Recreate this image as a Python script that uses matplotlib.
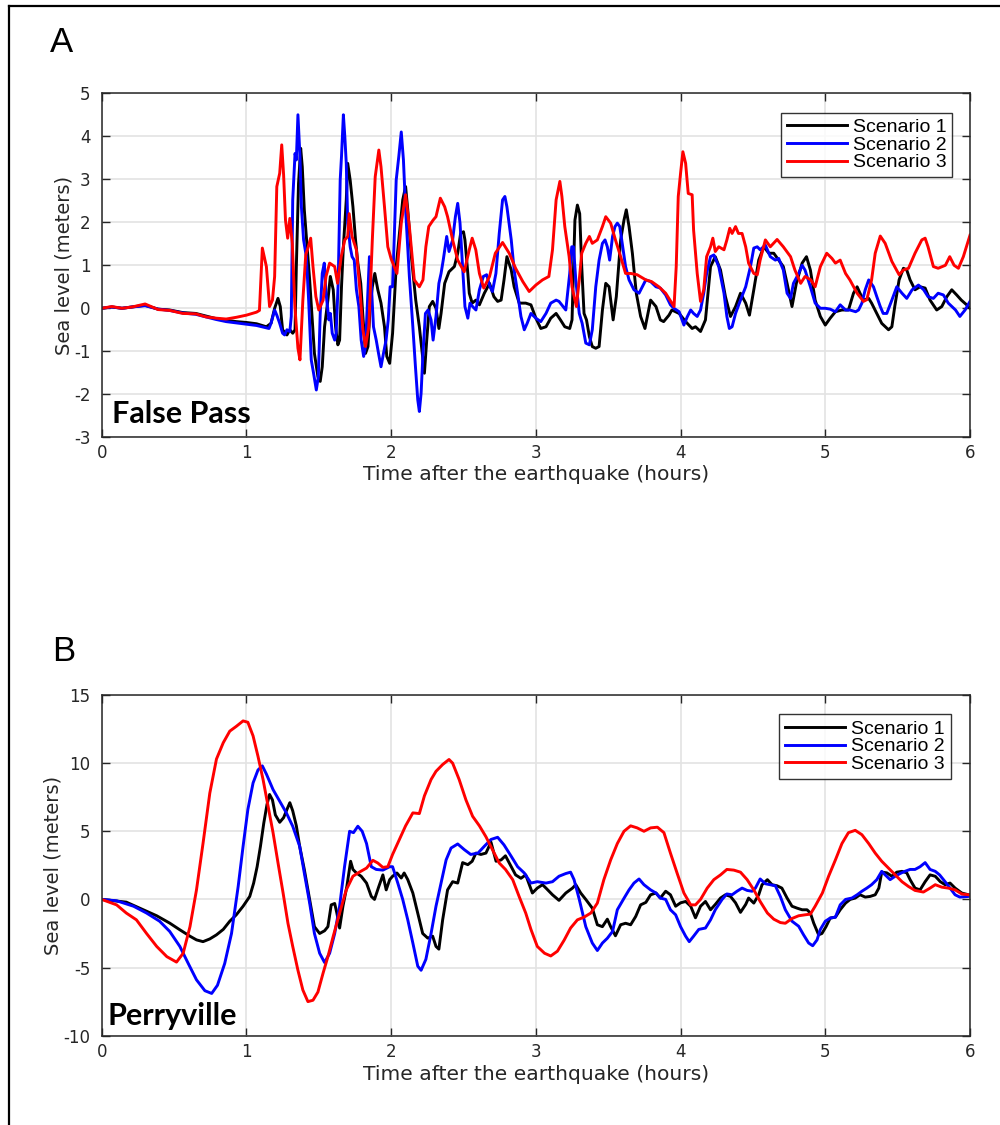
import numpy as np
import matplotlib
matplotlib.use("Agg")
import matplotlib.pyplot as plt
from matplotlib.lines import Line2D

plt.rcParams['font.family'] = ['Liberation Sans', 'DejaVu Sans']
plt.rcParams['axes.unicode_minus'] = False

# ---- panel A: False Pass ----
a_t1 = [0, 0.07, 0.14, 0.21, 0.30, 0.39, 0.47, 0.56, 0.65, 0.72, 0.79, 0.86, 0.93, 1.0, 1.07, 1.138, 1.17, 1.195,
        1.218, 1.234, 1.25, 1.28, 1.30, 1.32, 1.336, 1.345, 1.36, 1.375, 1.386, 1.40, 1.418, 1.437, 1.455, 1.47,
        1.494, 1.51, 1.524, 1.54, 1.563, 1.58, 1.6, 1.616, 1.632, 1.644, 1.657, 1.67, 1.69, 1.70, 1.717, 1.736,
        1.754, 1.77, 1.79, 1.805, 1.823, 1.84, 1.855, 1.87, 1.887, 1.908, 1.93, 1.954, 1.97, 1.99, 2.01, 2.035,
        2.057, 2.08, 2.10, 2.115, 2.14, 2.17, 2.195, 2.22, 2.23, 2.246, 2.264, 2.287, 2.31, 2.33, 2.345, 2.37, 2.40,
        2.437, 2.46, 2.48, 2.50, 2.51, 2.53, 2.54, 2.56, 2.586, 2.61, 2.644, 2.68, 2.71, 2.736, 2.76, 2.78, 2.80,
        2.83, 2.85, 2.885, 2.93, 2.966, 3.0, 3.034, 3.07, 3.103, 3.14, 3.17, 3.2, 3.234, 3.25, 3.27, 3.287, 3.303,
        3.317, 3.333, 3.35, 3.37, 3.39, 3.414, 3.437, 3.46, 3.483, 3.506, 3.534, 3.556, 3.586, 3.609, 3.625, 3.644,
        3.667, 3.694, 3.724, 3.754, 3.793, 3.83, 3.86, 3.883, 3.92, 3.94, 3.99, 4.035, 4.08, 4.103, 4.138, 4.172,
        4.207, 4.24, 4.276, 4.31, 4.345, 4.38, 4.414, 4.45, 4.476, 4.506, 4.54, 4.575, 4.61, 4.644, 4.678, 4.71,
        4.736, 4.77, 4.80, 4.84, 4.87, 4.897, 4.93, 4.966, 5.0, 5.034, 5.07, 5.115, 5.16, 5.195, 5.22, 5.24, 5.264,
        5.3, 5.32, 5.356, 5.39, 5.437, 5.46, 5.48, 5.51, 5.54, 5.563, 5.586, 5.62, 5.655, 5.69, 5.724, 5.77, 5.805,
        5.84, 5.874, 5.908, 5.94, 5.977, 6.0]
a_s1 = [0.0, 0.03, 0.0, 0.03, 0.07, -0.02, -0.04, -0.1, -0.12, -0.18, -0.24, -0.28, -0.31, -0.33, -0.36, -0.43,
        -0.35, 0.0, 0.23, 0.04, -0.5, -0.62, -0.5, -0.58, -0.5, 0.97, 2.9, 3.72, 3.29, 2.29, 1.51, 0.66, -0.27,
        -1.05, -1.59, -1.7, -1.36, -0.43, 0.19, 0.74, 0.43, -0.43, -0.85, -0.74, 0.5, 1.43, 2.52, 3.37, 2.98, 2.36,
        1.59, 1.05, 0.58, -0.19, -1.05, -0.89, 0.04, 0.5, 0.81, 0.43, 0.12, -0.43, -1.12, -1.28, -0.58, 0.97, 1.74,
        2.52, 2.83, 2.29, 1.2, 0.19, -0.43, -1.2, -1.51, -0.74, 0.04, 0.16, 0.0, -0.47, -0.12, 0.58, 0.85, 0.97,
        1.28, 1.74, 1.78, 1.59, 0.81, 0.35, 0.12, 0.19, 0.08, 0.35, 0.58, 0.27, 0.16, 0.19, 0.66, 1.2, 0.89, 0.5,
        0.12, 0.12, 0.08, -0.23, -0.47, -0.43, -0.23, -0.12, -0.27, -0.43, -0.47, -0.27, 2.05, 2.4, 2.2, 0.97,
        -0.12, -0.27, -0.66, -0.89, -0.93, -0.89, -0.04, 0.58, 0.5, -0.27, 0.27, 1.59, 2.05, 2.29, 1.9, 1.28, 0.35,
        -0.19, -0.47, 0.19, 0.04, -0.27, -0.31, -0.16, -0.04, -0.12, -0.31, -0.47, -0.43, -0.54, -0.27, 0.97, 1.2,
        0.89, 0.27, -0.19, 0.04, 0.35, 0.12, -0.16, 0.43, 1.12, 1.43, 1.28, 1.28, 1.12, 0.97, 0.58, 0.04, 0.58,
        1.05, 1.2, 0.89, 0.19, -0.19, -0.39, -0.23, -0.08, -0.04, -0.04, 0.35, 0.5, 0.35, 0.19, 0.23, 0.12, -0.12,
        -0.35, -0.5, -0.43, 0.04, 0.66, 0.93, 0.89, 0.66, 0.43, 0.5, 0.47, 0.19, -0.04, 0.04, 0.27, 0.43, 0.31,
        0.19, 0.08, 0.0]

a_t2 = [0, 0.07, 0.14, 0.21, 0.30, 0.39, 0.47, 0.56, 0.65, 0.72, 0.79, 0.86, 0.93, 1.0, 1.07, 1.156, 1.17, 1.195,
        1.21, 1.23, 1.25, 1.264, 1.28, 1.30, 1.31, 1.32, 1.336, 1.345, 1.356, 1.37, 1.38, 1.395, 1.414, 1.43, 1.448,
        1.464, 1.483, 1.497, 1.51, 1.524, 1.538, 1.55, 1.57, 1.58, 1.593, 1.61, 1.62, 1.634, 1.648, 1.657, 1.67,
        1.68, 1.69, 1.70, 1.717, 1.73, 1.745, 1.76, 1.777, 1.793, 1.81, 1.823, 1.837, 1.85, 1.864, 1.878, 1.897,
        1.913, 1.93, 1.947, 1.965, 1.98, 1.993, 2.01, 2.035, 2.053, 2.07, 2.085, 2.10, 2.126, 2.15, 2.168, 2.184,
        2.195, 2.207, 2.22, 2.237, 2.255, 2.276, 2.29, 2.31, 2.33, 2.345, 2.36, 2.384, 2.40, 2.425, 2.444, 2.46,
        2.476, 2.494, 2.51, 2.53, 2.545, 2.563, 2.586, 2.61, 2.637, 2.66, 2.683, 2.70, 2.724, 2.747, 2.77, 2.786,
        2.80, 2.83, 2.85, 2.874, 2.897, 2.92, 2.94, 2.966, 3.0, 3.034, 3.07, 3.103, 3.14, 3.16, 3.207, 3.234, 3.248,
        3.26, 3.276, 3.3, 3.32, 3.345, 3.37, 3.39, 3.414, 3.437, 3.46, 3.478, 3.494, 3.51, 3.53, 3.547, 3.563, 3.58,
        3.6, 3.62, 3.644, 3.678, 3.713, 3.736, 3.76, 3.793, 3.83, 3.86, 3.897, 3.93, 3.954, 3.99, 4.023, 4.046,
        4.07, 4.09, 4.115, 4.138, 4.16, 4.18, 4.207, 4.23, 4.264, 4.3, 4.32, 4.337, 4.356, 4.38, 4.414, 4.45, 4.483,
        4.506, 4.53, 4.55, 4.586, 4.62, 4.655, 4.678, 4.71, 4.736, 4.76, 4.78, 4.816, 4.84, 4.86, 4.897, 4.93,
        4.966, 5.0, 5.034, 5.07, 5.103, 5.14, 5.17, 5.21, 5.23, 5.253, 5.276, 5.30, 5.333, 5.356, 5.38, 5.40, 5.425,
        5.46, 5.494, 5.53, 5.563, 5.6, 5.644, 5.68, 5.71, 5.747, 5.78, 5.816, 5.85, 5.9, 5.93, 5.966, 6.0]
a_s2 = [0.0, 0.03, 0.0, 0.03, 0.06, -0.02, -0.05, -0.11, -0.14, -0.2, -0.26, -0.31, -0.34, -0.37, -0.4, -0.47,
        -0.35, -0.04, -0.16, -0.35, -0.58, -0.62, -0.5, -0.54, -0.19, 2.52, 3.6, 3.45, 4.5, 3.53, 2.36, 1.59, 1.2,
        0.19, -1.2, -1.51, -1.9, -1.59, -0.12, 0.81, 1.05, 0.35, -0.27, -0.12, -0.58, -0.74, -0.58, 0.58, 2.98,
        3.53, 4.5, 3.99, 3.37, 1.98, 1.43, 1.2, 1.12, 0.43, 0.04, -0.74, -1.12, -0.89, 0.19, 1.2, 0.5, -0.43,
        -0.74, -1.05, -1.36, -1.05, -0.74, -0.27, 0.5, 0.5, 2.98, 3.53, 4.1, 3.45, 2.29, 0.74, -0.43, -1.36,
        -2.13, -2.4, -1.98, -1.05, -0.12, -0.04, -0.27, -0.74, -0.19, 0.58, 0.81, 1.12, 1.67, 1.32, 1.59, 2.13,
        2.44, 1.98, 0.97, 0.04, -0.23, 0.12, 0.04, -0.04, 0.43, 0.74, 0.78, 0.5, 0.39, 0.81, 1.74, 2.52, 2.6, 2.36,
        1.59, 0.89, 0.35, -0.19, -0.5, -0.35, -0.12, -0.23, -0.31, -0.12, 0.12, 0.19, 0.16, -0.04, 0.81, 1.43,
        1.43, 0.66, -0.12, -0.35, -0.81, -0.85, -0.5, 0.5, 1.12, 1.51, 1.59, 1.43, 1.12, 1.67, 1.9, 1.98, 1.9,
        1.43, 0.97, 0.66, 0.43, 0.35, 0.5, 0.66, 0.62, 0.5, 0.47, 0.31, 0.08, 0.0, -0.08, -0.39, -0.2, -0.04,
        -0.12, -0.19, -0.04, 0.35, 0.81, 1.2, 1.24, 0.97, 0.35, -0.19, -0.47, -0.43, -0.12, 0.19, 0.5, 0.97, 1.4,
        1.43, 1.36, 1.47, 1.2, 1.12, 1.16, 0.89, 0.35, 0.23, 0.58, 0.81, 1.0, 0.89, 0.5, 0.12, 0.0, 0.0, -0.02,
        -0.08, 0.08, -0.04, -0.04, -0.08, -0.04, 0.12, 0.43, 0.66, 0.5, 0.27, 0.04, -0.12, -0.12, 0.19, 0.5, 0.35,
        0.23, 0.43, 0.54, 0.43, 0.27, 0.23, 0.35, 0.31, 0.12, -0.04, -0.19, -0.04, 0.16]

a_t3 = [0, 0.07, 0.14, 0.21, 0.30, 0.39, 0.47, 0.56, 0.65, 0.72, 0.79, 0.86, 0.93, 1.0, 1.07, 1.09, 1.11, 1.138,
        1.16, 1.18, 1.195, 1.21, 1.23, 1.244, 1.257, 1.27, 1.285, 1.30, 1.317, 1.335, 1.356, 1.37, 1.39, 1.41,
        1.425, 1.444, 1.46, 1.48, 1.50, 1.53, 1.55, 1.575, 1.61, 1.63, 1.655, 1.68, 1.70, 1.71, 1.73, 1.76, 1.786,
        1.805, 1.823, 1.846, 1.87, 1.89, 1.915, 1.93, 1.954, 1.977, 2.0, 2.04, 2.07, 2.10, 2.126, 2.16, 2.195,
        2.22, 2.24, 2.26, 2.29, 2.31, 2.34, 2.37, 2.39, 2.425, 2.46, 2.505, 2.54, 2.56, 2.585, 2.61, 2.64, 2.68,
        2.72, 2.77, 2.816, 2.86, 2.91, 2.954, 3.0, 3.046, 3.09, 3.115, 3.14, 3.166, 3.18, 3.20, 3.23, 3.25, 3.28,
        3.30, 3.317, 3.345, 3.37, 3.39, 3.425, 3.46, 3.483, 3.517, 3.55, 3.586, 3.62, 3.655, 3.70, 3.76, 3.80,
        3.85, 3.897, 3.94, 3.955, 3.97, 3.984, 4.0, 4.016, 4.035, 4.053, 4.08, 4.09, 4.115, 4.138, 4.16, 4.18,
        4.207, 4.223, 4.24, 4.264, 4.30, 4.32, 4.34, 4.356, 4.38, 4.40, 4.425, 4.45, 4.47, 4.506, 4.53, 4.55,
        4.586, 4.62, 4.667, 4.71, 4.76, 4.79, 4.83, 4.86, 4.90, 4.93, 4.966, 5.01, 5.046, 5.07, 5.103, 5.14, 5.17,
        5.22, 5.264, 5.287, 5.32, 5.345, 5.38, 5.414, 5.46, 5.51, 5.54, 5.575, 5.62, 5.667, 5.69, 5.71, 5.747,
        5.78, 5.83, 5.86, 5.89, 5.92, 5.954, 6.0]
a_s3 = [0.0, 0.04, 0.0, 0.03, 0.1, -0.03, -0.05, -0.12, -0.13, -0.2, -0.23, -0.25, -0.21, -0.16, -0.09, -0.05,
        1.40, 0.97, 0.04, 0.19, 0.74, 2.83, 3.14, 3.80, 3.1, 2.05, 1.63, 2.09, 1.51, 0.04, -0.93, -1.2, 0.19, 1.24,
        1.40, 1.63, 0.97, 0.27, -0.04, 0.19, 0.74, 1.05, 0.97, 0.58, 1.2, 1.59, 1.67, 2.2, 1.67, 1.36, 0.35, -0.5,
        -0.89, -0.43, 1.59, 3.06, 3.68, 3.29, 2.36, 1.43, 1.15, 0.81, 1.98, 2.64, 1.9, 0.66, 0.50, 0.66, 1.43, 1.9,
        2.05, 2.13, 2.56, 2.36, 2.13, 1.59, 1.12, 0.85, 1.36, 1.63, 1.36, 0.81, 0.47, 0.74, 1.28, 1.53, 1.28, 0.93,
        0.62, 0.39, 0.54, 0.66, 0.74, 1.36, 2.52, 2.95, 2.6, 1.90, 1.2, 0.5, 0.04, 0.66, 1.28, 1.51, 1.67, 1.51,
        1.59, 1.9, 2.13, 1.98, 1.59, 1.2, 0.81, 0.81, 0.78, 0.66, 0.62, 0.5, 0.35, 0.12, 0.04, 0.97, 2.6, 3.14,
        3.64, 3.37, 2.67, 2.64, 1.82, 0.81, 0.16, 0.43, 1.2, 1.43, 1.63, 1.32, 1.43, 1.36, 1.59, 1.86, 1.74, 1.9,
        1.74, 1.74, 1.43, 1.05, 0.81, 0.78, 1.12, 1.59, 1.43, 1.6, 1.43, 1.2, 0.89, 0.58, 0.74, 0.66, 0.5, 0.97,
        1.28, 1.16, 1.05, 1.12, 0.81, 0.66, 0.35, 0.16, 0.2, 0.66, 1.28, 1.68, 1.51, 1.09, 0.78, 0.89, 0.93, 1.28,
        1.59, 1.63, 1.43, 0.97, 0.93, 1.0, 1.2, 1.0, 0.93, 1.2, 1.7]

# ---- panel B: Perryville ----
b_t1 = [0, 0.17, 0.287, 0.38, 0.47, 0.54, 0.61, 0.655, 0.70, 0.747, 0.793, 0.84, 0.885, 0.93, 0.977, 1.023, 1.05,
        1.074, 1.097, 1.12, 1.142, 1.16, 1.18, 1.2, 1.23, 1.257, 1.28, 1.30, 1.32, 1.345, 1.368, 1.40, 1.437, 1.47,
        1.506, 1.54, 1.563, 1.586, 1.61, 1.625, 1.644, 1.667, 1.694, 1.72, 1.736, 1.76, 1.793, 1.83, 1.863, 1.885,
        1.915, 1.943, 1.966, 1.99, 2.01, 2.04, 2.07, 2.09, 2.115, 2.15, 2.184, 2.218, 2.253, 2.287, 2.31, 2.33,
        2.356, 2.39, 2.425, 2.46, 2.494, 2.53, 2.56, 2.586, 2.62, 2.655, 2.69, 2.725, 2.76, 2.79, 2.83, 2.86, 2.897,
        2.93, 2.976, 3.01, 3.046, 3.07, 3.115, 3.16, 3.207, 3.253, 3.276, 3.31, 3.345, 3.39, 3.425, 3.46, 3.494,
        3.517, 3.55, 3.586, 3.62, 3.655, 3.69, 3.724, 3.76, 3.793, 3.83, 3.86, 3.897, 3.93, 3.966, 4.0, 4.035,
        4.07, 4.103, 4.138, 4.172, 4.207, 4.24, 4.276, 4.31, 4.345, 4.38, 4.414, 4.45, 4.47, 4.506, 4.54, 4.563,
        4.6, 4.632, 4.667, 4.7, 4.736, 4.77, 4.805, 4.84, 4.874, 4.897, 4.92, 4.954, 4.977, 5.005, 5.034, 5.07,
        5.103, 5.14, 5.172, 5.207, 5.24, 5.276, 5.31, 5.345, 5.37, 5.39, 5.425, 5.46, 5.494, 5.53, 5.563, 5.586,
        5.62, 5.655, 5.69, 5.724, 5.76, 5.795, 5.828, 5.862, 5.897, 5.943, 5.99, 6.0]
b_s1 = [0.0, -0.2, -0.76, -1.2, -1.74, -2.23, -2.7, -2.97, -3.1, -2.9, -2.6, -2.2, -1.6, -1.13, -0.5, 0.22, 1.2,
        2.4, 3.9, 5.6, 6.96, 7.7, 7.3, 6.2, 5.66, 6.0, 6.6, 7.1, 6.5, 5.4, 3.9, 2.2, 0.0, -2.0, -2.5, -2.3, -2.0,
        -0.4, -0.3, -1.0, -2.1, -0.5, 0.95, 2.8, 2.2, 1.94, 1.7, 1.2, 0.22, 0.0, 0.95, 1.8, 0.7, 1.45, 1.7, 1.94,
        1.57, 1.94, 1.45, 0.47, -1.0, -2.5, -2.84, -2.7, -3.45, -3.65, -1.5, 0.7, 1.3, 1.2, 2.7, 2.55, 2.8, 3.4,
        3.3, 3.4, 4.2, 2.8, 2.9, 3.2, 2.4, 1.8, 1.55, 1.8, 0.47, 0.83, 1.08, 0.83, 0.34, -0.07, 0.47, 0.83, 1.08,
        0.47, 0.0, -0.64, -1.86, -2.0, -1.45, -2.0, -2.67, -1.86, -1.75, -1.86, -1.25, -0.4, -0.22, 0.34, 0.47,
        0.1, 0.6, 0.34, -0.5, -0.25, -0.15, -0.5, -1.35, -0.5, -0.15, -0.76, -0.37, 0.1, 0.34, 0.22, -0.25, -0.95,
        -0.37, 0.1, -0.27, 0.34, 1.08, 1.45, 1.08, 1.0, 0.83, 0.1, -0.5, -0.64, -0.76, -0.76, -1.0, -1.74, -2.6,
        -2.5, -2.0, -1.37, -1.3, -0.76, -0.27, 0.0, 0.1, 0.34, 0.17, 0.22, 0.34, 0.83, 2.0, 1.95, 1.7, 2.0, 2.06,
        1.95, 1.45, 0.83, 0.7, 1.3, 1.8, 1.7, 1.3, 1.08, 1.2, 0.83, 0.47, 0.34, 0.34]

b_t2 = [0, 0.103, 0.22, 0.31, 0.40, 0.47, 0.54, 0.598, 0.655, 0.713, 0.76, 0.80, 0.85, 0.897, 0.943, 0.977, 1.01,
        1.046, 1.08, 1.11, 1.138, 1.184, 1.23, 1.276, 1.32, 1.368, 1.40, 1.437, 1.47, 1.506, 1.54, 1.575, 1.61,
        1.644, 1.678, 1.713, 1.74, 1.77, 1.80, 1.83, 1.863, 1.897, 1.943, 1.99, 2.01, 2.046, 2.08, 2.115, 2.15,
        2.184, 2.207, 2.24, 2.276, 2.31, 2.345, 2.38, 2.414, 2.46, 2.506, 2.55, 2.60, 2.644, 2.69, 2.736, 2.78,
        2.83, 2.874, 2.92, 2.966, 3.01, 3.07, 3.115, 3.16, 3.207, 3.24, 3.264, 3.3, 3.345, 3.39, 3.425, 3.46, 3.494,
        3.53, 3.563, 3.61, 3.644, 3.678, 3.713, 3.747, 3.793, 3.83, 3.86, 3.897, 3.93, 3.966, 4.0, 4.035, 4.06,
        4.09, 4.126, 4.172, 4.207, 4.24, 4.287, 4.32, 4.356, 4.39, 4.425, 4.46, 4.494, 4.517, 4.55, 4.586, 4.62,
        4.655, 4.69, 4.724, 4.77, 4.816, 4.85, 4.885, 4.913, 4.943, 4.966, 5.0, 5.034, 5.07, 5.103, 5.14, 5.184,
        5.22, 5.253, 5.287, 5.32, 5.356, 5.39, 5.414, 5.448, 5.483, 5.517, 5.55, 5.586, 5.62, 5.655, 5.69, 5.724,
        5.76, 5.79, 5.828, 5.862, 5.897, 5.93, 5.99, 6.0]
b_s2 = [0.0, -0.1, -0.5, -1.0, -1.6, -2.35, -3.45, -4.7, -5.9, -6.7, -6.9, -6.3, -4.7, -2.5, 0.95, 3.9, 6.6, 8.55,
        9.5, 9.8, 9.2, 8.06, 7.2, 6.35, 5.37, 3.9, 1.94, -0.27, -2.5, -3.95, -4.63, -3.95, -2.5, -0.5, 2.4, 5.0,
        4.9, 5.37, 5.0, 4.1, 2.4, 2.2, 2.15, 2.4, 2.4, 1.2, 0.0, -1.5, -3.2, -4.9, -5.2, -4.4, -2.5, -0.5, 1.2,
        2.9, 3.77, 4.07, 3.65, 3.3, 3.4, 3.9, 4.4, 4.56, 4.0, 3.16, 2.4, 1.94, 1.2, 1.3, 1.2, 1.3, 1.7, 1.9, 2.0,
        1.45, 0.0, -2.0, -3.2, -3.75, -3.2, -2.85, -2.35, -0.76, 0.1, 0.7, 1.2, 1.5, 1.08, 0.7, 0.47, 0.1, 0.0,
        -0.76, -1.13, -2.0, -2.7, -3.1, -2.7, -2.2, -2.1, -1.5, -0.76, 0.0, 0.4, 0.34, 0.6, 0.83, 0.66, 0.6, 0.83,
        1.5, 1.15, 1.08, 1.0, 0.2, -0.76, -1.6, -1.97, -2.6, -3.2, -3.4, -2.97, -2.2, -1.6, -1.37, -1.3, -0.4, 0.0,
        0.1, 0.34, 0.6, 0.83, 1.08, 1.45, 2.06, 1.8, 1.45, 1.7, 1.9, 2.06, 2.2, 2.2, 2.4, 2.7, 2.2, 2.06, 1.8, 1.3,
        0.83, 0.34, 0.17, 0.22, 0.25]

b_t3 = [0, 0.103, 0.17, 0.24, 0.31, 0.38, 0.45, 0.517, 0.563, 0.61, 0.655, 0.70, 0.747, 0.793, 0.84, 0.885, 0.93,
        0.977, 1.01, 1.046, 1.08, 1.115, 1.15, 1.184, 1.218, 1.253, 1.287, 1.32, 1.356, 1.39, 1.425, 1.46, 1.494,
        1.53, 1.563, 1.6, 1.644, 1.69, 1.736, 1.78, 1.83, 1.874, 1.908, 1.943, 1.977, 2.01, 2.057, 2.10, 2.15,
        2.195, 2.23, 2.276, 2.31, 2.356, 2.40, 2.425, 2.47, 2.517, 2.563, 2.61, 2.655, 2.70, 2.747, 2.79, 2.84,
        2.885, 2.93, 2.966, 3.01, 3.06, 3.103, 3.149, 3.195, 3.24, 3.287, 3.333, 3.38, 3.425, 3.47, 3.517, 3.563,
        3.609, 3.655, 3.70, 3.747, 3.793, 3.84, 3.885, 3.93, 3.977, 4.023, 4.07, 4.103, 4.138, 4.184, 4.23, 4.276,
        4.32, 4.368, 4.414, 4.46, 4.506, 4.55, 4.60, 4.644, 4.69, 4.724, 4.77, 4.816, 4.86, 4.897, 4.93, 4.98,
        5.023, 5.07, 5.115, 5.16, 5.207, 5.253, 5.3, 5.345, 5.39, 5.437, 5.483, 5.53, 5.575, 5.62, 5.678, 5.724,
        5.76, 5.805, 5.85, 5.897, 5.943, 5.99, 6.0]
b_s3 = [0.0, -0.4, -1.0, -1.5, -2.5, -3.45, -4.2, -4.6, -3.95, -2.0, 0.7, 4.1, 7.8, 10.3, 11.5, 12.35, 12.7, 13.1,
        13.0, 12.0, 10.5, 8.8, 6.8, 4.9, 2.7, 0.5, -1.75, -3.45, -5.2, -6.65, -7.5, -7.4, -6.8, -5.4, -4.2, -2.7,
        -1.0, 0.7, 1.7, 2.0, 2.3, 2.87, 2.67, 2.35, 2.4, 3.3, 4.4, 5.4, 6.35, 6.3, 7.6, 8.8, 9.4, 9.9, 10.27, 10.0,
        8.8, 7.3, 6.1, 5.4, 4.6, 3.65, 2.67, 2.2, 1.45, 0.2, -1.0, -2.2, -3.45, -3.95, -4.15, -3.8, -3.0, -2.1,
        -1.5, -1.3, -1.0, -0.27, 1.45, 2.9, 4.1, 5.0, 5.4, 5.25, 5.0, 5.25, 5.3, 4.9, 3.4, 1.9, 0.47, -0.4, -0.4,
        0.0, 0.83, 1.45, 1.8, 2.2, 2.15, 2.0, 1.45, 0.7, -0.15, -1.0, -1.45, -1.7, -1.75, -1.4, -1.2, -1.13, -1.08,
        -0.5, 0.47, 1.7, 2.9, 4.1, 4.9, 5.07, 4.75, 4.1, 3.4, 2.8, 2.3, 1.8, 1.3, 0.95, 0.66, 0.54, 0.83, 1.08,
        0.9, 0.83, 0.7, 0.4, 0.34, 0.34]

labels = ["Scenario 1", "Scenario 2", "Scenario 3"]
colors = ["black", "blue", "red"]
dark = "#262626"
wide = ["DejaVu Sans"]

fig = plt.figure(figsize=(10, 11.25), dpi=100)
axA = fig.add_axes([0.1017, 0.6113, 0.8683, 0.3058])
axB = fig.add_axes([0.1017, 0.0794, 0.8683, 0.3028])

panels = [
    (axA, [(a_t1, a_s1), (a_t2, a_s2), (a_t3, a_s3)], (-3, 5), np.arange(-3, 6, 1), "False Pass", (0.012, 0.0407),
     (-0.033, 0.5), -0.081, (0.9796, 0.9436)),
    (axB, [(b_t1, b_s1), (b_t2, b_s2), (b_t3, b_s3)], (-10, 15), np.arange(-10, 16, 5), "Perryville", (0.007, 0.031),
     (-0.0457, 0.5), -0.087, (0.9778, 0.9433)),
]

for ax, series, ylim, yticks, name, name_xy, ylab_xy, xlab_y, leg_xy in panels:
    for (t, s), c, lab in zip(series, colors, labels):
        ax.plot(t, s, color=c, lw=2.1, label=lab)
    ax.set_xlim(0, 6)
    ax.set_ylim(*ylim)
    ax.set_xticks(range(0, 7))
    ax.set_yticks(yticks)
    ax.grid(True, color="#e3e3e3", lw=1.2)
    ax.set_axisbelow(True)
    for sp in ax.spines.values():
        sp.set_color(dark)
        sp.set_linewidth(1.1)
    ax.tick_params(direction="in", length=6, width=1, colors=dark, labelsize=12, top=True, right=True)
    ax.tick_params(axis="x", pad=5)
    ax.tick_params(axis="y", pad=8)
    for lbl in ax.get_xticklabels() + ax.get_yticklabels():
        lbl.set_family(wide)
    ax.set_xlabel("Time after the earthquake (hours)", fontsize=14.6, color=dark, family=wide)
    ax.xaxis.set_label_coords(0.5, xlab_y)
    ax.set_ylabel("Sea level (meters)", fontsize=14, color=dark, family=wide)
    ax.yaxis.set_label_coords(*ylab_xy)
    ax.text(name_xy[0], name_xy[1], name, transform=ax.transAxes, fontsize=22, fontweight="bold",
            family=["Lato", "DejaVu Sans"], va="baseline", ha="left")
    leg = ax.legend(loc="upper right", bbox_to_anchor=leg_xy, borderaxespad=0, fontsize=14, frameon=True,
                    fancybox=False, handlelength=3.1, handletextpad=0.3, labelspacing=0.0, borderpad=0.3)
    leg.get_frame().set_edgecolor("black")
    leg.get_frame().set_linewidth(1.0)

fig.text(0.05, 0.954, "A", fontsize=25, va="baseline", ha="left")
fig.text(0.052, 0.4124, "B", fontsize=25, va="baseline", ha="left")

# frame lines around the figure (left and top edges)
fig.add_artist(Line2D([0.009, 0.009], [0.0, 0.9947], transform=fig.transFigure, color="black", lw=1.6))
fig.add_artist(Line2D([0.009, 1.0], [0.9947, 0.9947], transform=fig.transFigure, color="black", lw=1.6))

fig.savefig("out.png", dpi=100)
